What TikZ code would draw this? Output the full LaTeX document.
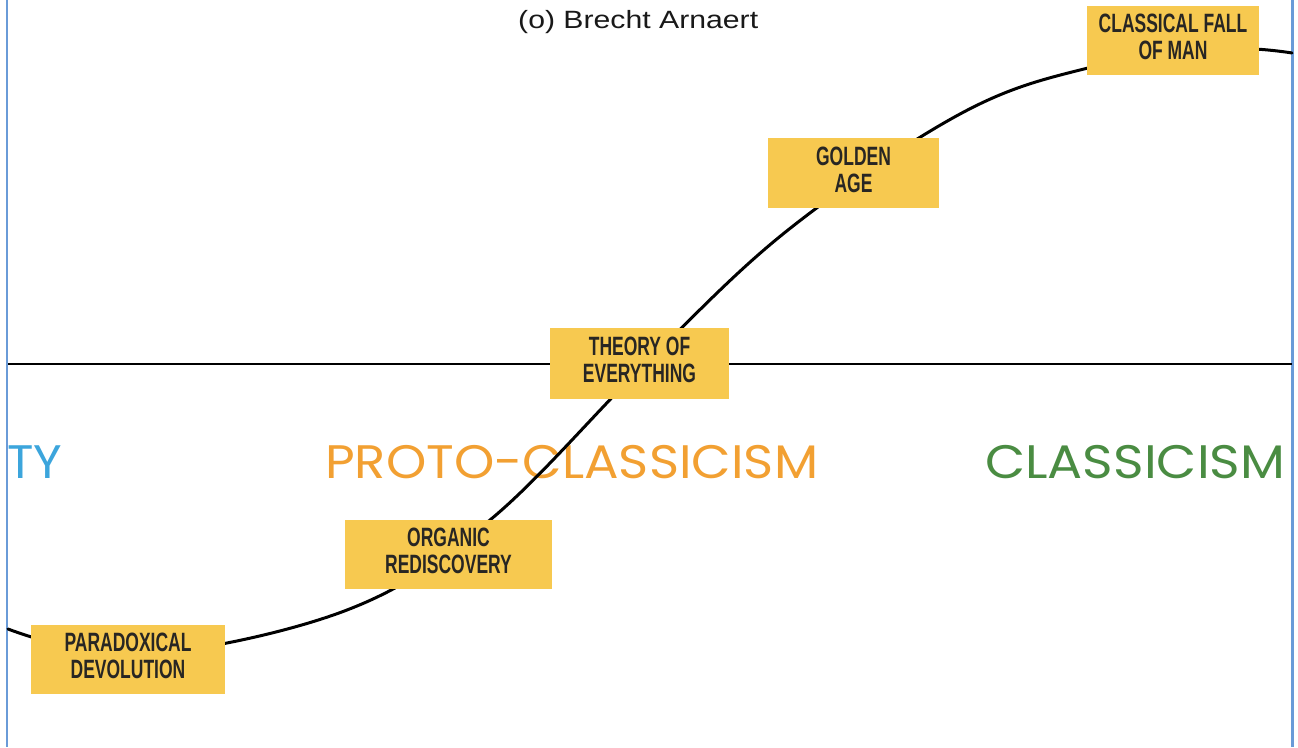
\documentclass[tikz,border=0pt]{standalone}
\usepackage{fontspec}
\usepackage{graphicx}
\newfontfamily\dinfont[FakeStretch=0.66]{Liberation Sans}
\newfontfamily\helvfont{Liberation Sans}
\newfontfamily\geofont{Poppins}
\definecolor{boxfill}{RGB}{247,201,80}
\definecolor{boxtext}{RGB}{40,38,35}
\definecolor{frameblue}{RGB}{106,155,216}
\definecolor{protoorange}{RGB}{242,160,50}
\definecolor{classgreen}{RGB}{74,140,66}
\definecolor{tyblue}{RGB}{60,165,220}
\tikzset{
  phasebox/.style={fill=boxfill, inner sep=0pt, align=center, text=boxtext,
    font=\dinfont\bfseries\fontsize{26.5}{27}\selectfont},
  eralabel/.style={anchor=base west, inner sep=0pt, font=\geofont\fontsize{47}{50}\selectfont},
}
\newcommand{\dstrut}{\rule[-7pt]{0pt}{0pt}}
\begin{document}
\begin{tikzpicture}[x=1pt,y=-1pt]
\useasboundingbox (0,0) rectangle (1298,747);
% frame lines
\draw[frameblue, line width=2.5pt] (7,0) -- (7,747);
\draw[frameblue, line width=2.5pt] (1292.5,0) -- (1292.5,747);
% header
\node[anchor=base west, inner sep=0pt, font=\helvfont\fontsize{25}{28}\selectfont, text=black!90] (author) at (518,28.5) {\resizebox{240pt}{\height}{(o) Brecht Arnaert}};
% era labels
\node[eralabel, text=tyblue] (ty) at (7,478) {\resizebox{55pt}{\height}{TY}};
\node[eralabel, text=protoorange] (proto) at (325,478) {\resizebox{493pt}{\height}{PROTO-CLASSICISM}};
\node[eralabel, text=classgreen] (classic) at (985,478) {\resizebox{300pt}{\height}{CLASSICISM}};
% axis
\coordinate (axl) at (8,364);
\coordinate (axr) at (1292,364);
\draw[line width=2.2pt] (axl) -- (axr);
% curve
\draw[line width=3pt, line cap=round] plot[smooth, tension=0.6] coordinates {
 (8,629) (140,655) (347,610) (490,520) (645,364) (788,230) (960,114) (1088,68) (1220,49) (1292,53)};
% boxes
\node[phasebox, minimum width=194pt, minimum height=69pt] (pd) at (128,659.5) {PARADOXICAL\\DEVOLUTION\dstrut};
\node[phasebox, minimum width=207pt, minimum height=69pt] (or) at (448.5,554.5) {ORGANIC\\REDISCOVERY\dstrut};
\node[phasebox, minimum width=179pt, minimum height=71pt] (te) at (639.5,363.5) {THEORY OF\\EVERYTHING\dstrut};
\node[phasebox, minimum width=171pt, minimum height=70pt] (ga) at (853.5,173) {GOLDEN\\AGE\dstrut};
\node[phasebox, minimum width=172pt, minimum height=69pt] (cf) at (1173,40.5) {CLASSICAL FALL\\OF MAN\dstrut};
\end{tikzpicture}
\end{document}
